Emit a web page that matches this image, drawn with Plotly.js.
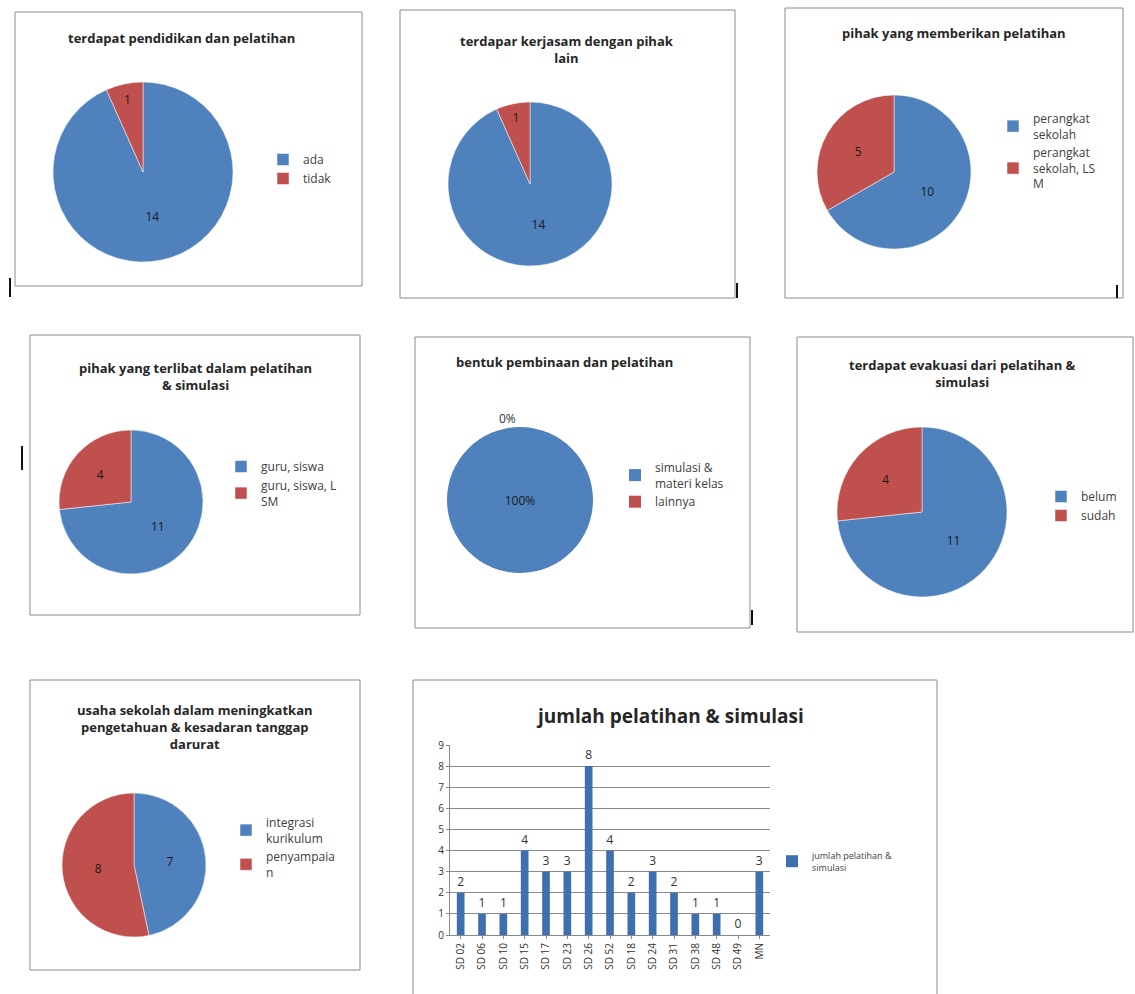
<!DOCTYPE html>
<html>
<head>
<meta charset="utf-8">
<script src="https://cdn.plot.ly/plotly-3.0.1.min.js"></script>
<style>html,body{margin:0;padding:0;background:#fff;}#chart{width:1135px;height:994px;}</style>
</head>
<body>
<div id="chart"></div>
<script>
// ---- data ----
const pendidikanLabels = ["ada", "tidak"];
const pendidikanValues = [14, 1];

const kerjasamaLabels = ["ada", "tidak"];
const kerjasamaValues = [14, 1];

const pemberiLabels = ["perangkat<br>sekolah", "perangkat<br>sekolah, LS<br>M"];
const pemberiValues = [10, 5];

const terlibatLabels = ["guru, siswa", "guru, siswa, L<br>SM"];
const terlibatValues = [11, 4];

const bentukLabels = ["simulasi &<br>materi kelas", "lainnya"];
const bentukValues = [15, 0];

const evaluasiLabels = ["belum", "sudah"];
const evaluasiValues = [11, 4];

const usahaLabels = ["integrasi<br>kurikulum", "penyampaia<br>n"];
const usahaValues = [7, 8];

const sekolah = ["SD 02", "SD 06", "SD 10", "SD 15", "SD 17", "SD 23", "SD 26", "SD 52", "SD 18", "SD 24", "SD 31", "SD 38", "SD 48", "SD 49", "MN"];
const jumlahPelatihan = [2, 1, 1, 4, 3, 3, 8, 4, 2, 3, 2, 1, 1, 0, 3];

// ---- layout helpers ----
const W = 1135, H = 994;
const BLUE = "#4F81BD", RED = "#C0504D";
const FONT = "'Open Sans', Lato, sans-serif";
const px = x => x / W;
const py = y => 1 - y / H;

function pieDomain(cx, cy, r) {
  return { x: [px(cx - r), px(cx + r)], y: [py(cy + r), py(cy - r)] };
}

const pieSpecs = [
  { labels: pendidikanLabels, values: pendidikanValues, c: [143, 172, 90], legend: "legend", lg: [263, 145] },
  { labels: kerjasamaLabels, values: kerjasamaValues, c: [530, 184, 82], legend: "legend2", lg: [642, 158] },
  { labels: pemberiLabels, values: pemberiValues, c: [894, 172, 77], legend: "legend3", lg: [993, 104] },
  { labels: terlibatLabels, values: terlibatValues, c: [131, 502, 72], legend: "legend4", lg: [221, 452] },
  { labels: bentukLabels, values: bentukValues, c: [520, 500, 73], legend: "legend5", lg: [615, 453], pct: true },
  { labels: evaluasiLabels, values: evaluasiValues, c: [922, 512, 85], legend: "legend6", lg: [1041, 482] },
  { labels: usahaLabels, values: usahaValues, c: [134, 865, 72], legend: "legend7", lg: [226, 808] }
];

const traces = pieSpecs.map(s => ({
  type: "pie",
  labels: s.labels,
  values: s.values,
  domain: pieDomain(s.c[0], s.c[1], s.c[2]),
  sort: false,
  direction: "clockwise",
  rotation: 0,
  marker: { colors: [BLUE, RED], line: { color: "#ffffff", width: s.pct ? 0 : 0.5 } },
  textinfo: s.pct ? "percent" : "value",
  texttemplate: s.pct ? "%{percent:.0%}" : "%{value}",
  textposition: s.pct ? ["inside", "outside"] : "inside",
  insidetextorientation: "horizontal",
  textfont: { family: FONT, size: 12, color: "#1a1a1a" },
  outsidetextfont: { family: FONT, size: 12, color: "#333" },
  automargin: false,
  legend: s.legend,
  showlegend: true,
  hoverinfo: "label+value"
}));

traces.push({
  type: "bar",
  x: sekolah,
  y: jumlahPelatihan,
  name: "jumlah pelatihan &<br>simulasi",
  marker: { color: "#3E6FAE" },
  width: 0.36,
  text: jumlahPelatihan.map(String),
  textposition: "outside",
  cliponaxis: false,
  textfont: { family: FONT, size: 12, color: "#333" },
  legend: "legend8",
  xaxis: "x",
  yaxis: "y"
});

const titles = [
  { t: "terdapat pendidikan dan pelatihan", x: 181, y: 38 },
  { t: "terdapar kerjasam dengan pihak<br>lain", x: 567, y: 49 },
  { t: "pihak yang memberikan pelatihan", x: 954, y: 33 },
  { t: "pihak yang terlibat dalam pelatihan<br>& simulasi", x: 195, y: 376 },
  { t: "bentuk pembinaan dan pelatihan", x: 564, y: 362 },
  { t: "terdapat evakuasi dari pelatihan &<br>simulasi", x: 962, y: 373 },
  { t: "usaha sekolah dalam meningkatkan<br>pengetahuan & kesadaran tanggap<br>darurat", x: 195, y: 727 }
];

const annotations = titles.map(o => ({
  text: "<b>" + o.t.split("<br>").join("</b><br><b>") + "</b>",
  x: px(o.x), y: py(o.y), xref: "paper", yref: "paper",
  xanchor: "center", yanchor: "middle", showarrow: false, align: "center",
  font: { family: FONT, size: 13, color: "#262626" }
}));
annotations.push({
  text: "<b>jumlah pelatihan & simulasi</b>",
  x: px(670), y: py(716), xref: "paper", yref: "paper",
  xanchor: "center", yanchor: "middle", showarrow: false,
  font: { family: FONT, size: 19, color: "#262626" }
});

const boxes = [
  [15, 12, 362, 286], [400, 10, 735, 298], [785, 8, 1123, 298],
  [30, 335, 360, 615], [415, 337, 750, 628], [797, 337, 1133, 632],
  [30, 680, 360, 970], [413, 680, 937, 1000]
];
const shapes = boxes.map(b => ({
  type: "rect", xref: "paper", yref: "paper",
  x0: px(b[0]), x1: px(b[2]), y0: py(b[3]), y1: py(b[1]),
  line: { color: "#8c8c8c", width: 1 }, fillcolor: "rgba(0,0,0,0)", layer: "below"
}));
const marks = [[10, 278, 297], [737, 283, 298], [22, 446, 470], [1117, 285, 298], [752, 610, 625]];
marks.forEach(m => shapes.push({
  type: "line", xref: "paper", yref: "paper",
  x0: px(m[0]), x1: px(m[0]), y0: py(m[2]), y1: py(m[1]),
  line: { color: "#111", width: 2 }
}));

function legendAt(xy, size) {
  return {
    x: px(xy[0]), y: py(xy[1]), xanchor: "left", yanchor: "top",
    bgcolor: "rgba(0,0,0,0)", borderwidth: 0,
    font: { family: FONT, size: size || 12, color: "#404040" },
    itemclick: false, itemdoubleclick: false
  };
}

const layout = {
  width: W, height: H,
  margin: { l: 0, r: 0, t: 0, b: 0 },
  paper_bgcolor: "#ffffff",
  plot_bgcolor: "rgba(0,0,0,0)",
  font: { family: FONT },
  annotations: annotations,
  shapes: shapes,
  xaxis: {
    domain: [px(450), px(770)], anchor: "y",
    tickangle: -90, tickfont: { family: FONT, size: 10, color: "#333" },
    showline: true, linecolor: "#888", ticks: "outside", ticklen: 3, tickcolor: "#888",
    showgrid: false, fixedrange: true
  },
  yaxis: {
    domain: [py(935), py(745)], anchor: "x",
    range: [0, 9], dtick: 1, tickfont: { family: FONT, size: 10, color: "#333" },
    showline: true, linecolor: "#888", ticks: "outside", ticklen: 3, tickcolor: "#888",
    gridcolor: "#8a8a8a", gridwidth: 1, zeroline: false, fixedrange: true
  },
  legend: legendAt(pieSpecs[0].lg),
  legend2: legendAt(pieSpecs[1].lg),
  legend3: legendAt(pieSpecs[2].lg),
  legend4: legendAt(pieSpecs[3].lg),
  legend5: legendAt(pieSpecs[4].lg),
  legend6: legendAt(pieSpecs[5].lg),
  legend7: legendAt(pieSpecs[6].lg),
  legend8: legendAt([772, 843], 9),
  bargap: 0.6
};

Plotly.newPlot("chart", traces, layout, { displayModeBar: false, staticPlot: true });
</script>
</body>
</html>
